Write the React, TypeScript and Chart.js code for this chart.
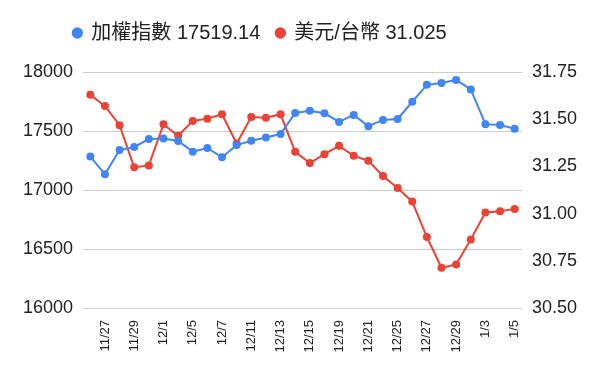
import React, { useEffect, useRef } from "react";
import { Chart, registerables } from "chart.js";

Chart.register(...registerables);

const dates = [
  "11/24", "11/27", "11/28", "11/29", "11/30", "12/1", "12/4", "12/5", "12/6", "12/7",
  "12/8", "12/11", "12/12", "12/13", "12/14", "12/15", "12/18", "12/19", "12/20", "12/21",
  "12/22", "12/25", "12/26", "12/27", "12/28", "12/29", "1/2", "1/3", "1/4", "1/5",
];

const taiex = [
  17283, 17134, 17339, 17365, 17432, 17437, 17415, 17325, 17356, 17277,
  17381, 17418, 17445, 17474, 17653, 17672, 17650, 17577, 17636, 17541,
  17594, 17602, 17748, 17891, 17907, 17933, 17852, 17558, 17550, 17519.14,
];

const usdTwd = [
  31.629, 31.57, 31.468, 31.245, 31.255, 31.473, 31.412, 31.491, 31.503, 31.526,
  31.371, 31.512, 31.508, 31.526, 31.327, 31.268, 31.315, 31.359, 31.306, 31.28,
  31.199, 31.136, 31.064, 30.876, 30.713, 30.731, 30.863, 31.006, 31.012, 31.025,
];

const taiexLabel = "加權指數 17519.14";
const usdLabel = "美元/台幣 31.025";

const leftTicks = { min: 16000, max: 18000, step: 500 };
const rightTicks = { min: 30.5, max: 31.75, step: 0.25 };

const FONT = "'Liberation Sans', Arial, 'Noto Sans CJK TC', sans-serif";

const legendTweak = {
  id: "legendTweak",
  beforeLayout(chart: any) {
    const lg = chart.legend;
    if (lg && !lg.__patched) {
      const orig = lg.fit.bind(lg);
      lg.fit = function () {
        orig();
        this.height += 19;
      };
      lg.__patched = true;
    }
  },
  afterLayout(chart: any) {
    const lg = chart.legend;
    if (lg) {
      lg.right -= 80;
    }
  },
};

export default function App() {
  const ref = useRef<HTMLCanvasElement | null>(null);

  useEffect(() => {
    if (!ref.current) return;
    const chart = new Chart(ref.current, {
      type: "line",
      data: {
        labels: dates,
        datasets: [
          {
            label: taiexLabel,
            data: taiex,
            borderColor: "#4285F4",
            backgroundColor: "#4285F4",
            pointBackgroundColor: "#4285F4",
            pointBorderWidth: 0,
            pointRadius: 4,
            borderWidth: 2,
            yAxisID: "y",
            tension: 0,
          },
          {
            label: usdLabel,
            data: usdTwd,
            borderColor: "#EA4335",
            backgroundColor: "#EA4335",
            pointBackgroundColor: "#EA4335",
            pointBorderWidth: 0,
            pointRadius: 4,
            borderWidth: 2,
            yAxisID: "y1",
            tension: 0,
          },
        ],
      },
      options: {
        animation: false,
        responsive: false,
        layout: { padding: { top: 7, left: 0, right: 0, bottom: 0 } },
        plugins: {
          legend: {
            position: "top",
            labels: {
              usePointStyle: true,
              pointStyle: "circle",
              boxWidth: 8,
              boxHeight: 8,
              padding: 16,
              color: "#222",
              font: { family: FONT, size: 20 },
            },
          },
          tooltip: { enabled: false },
        },
        scales: {
          x: {
            offset: true,
            grid: { display: false },
            border: { display: false },
            ticks: {
              autoSkip: false,
              maxRotation: 90,
              minRotation: 90,
              padding: 4,
              color: "#222",
              font: { family: FONT, size: 13 },
              callback: (_v: any, i: number) => (i % 2 === 1 ? dates[i] : ""),
            },
            afterFit: (s: any) => {
              s.height = 63;
            },
          },
          y: {
            position: "left",
            min: leftTicks.min,
            max: leftTicks.max,
            grid: { color: "#cccccc", drawTicks: false },
            border: { display: false },
            ticks: {
              stepSize: leftTicks.step,
              padding: 10,
              color: "#222",
              font: { family: FONT, size: 18 },
              callback: (v: any) => String(v),
            },
            afterFit: (s: any) => {
              s.width = 83;
            },
          },
          y1: {
            position: "right",
            min: rightTicks.min,
            max: rightTicks.max,
            grid: { drawOnChartArea: false, drawTicks: false },
            border: { display: false },
            ticks: {
              stepSize: rightTicks.step,
              padding: 10,
              color: "#222",
              font: { family: FONT, size: 18 },
              callback: (v: any) => Number(v).toFixed(2),
            },
            afterFit: (s: any) => {
              s.width = 78;
            },
          },
        },
      },
      plugins: [legendTweak],
    });
    return () => chart.destroy();
  }, []);

  return (
    <div style={{ position: "fixed", left: 0, top: 0, width: 600, height: 371, background: "#fff" }}>
      <canvas ref={ref} width={600} height={371} style={{ width: 600, height: 371 }} />
    </div>
  );
}
